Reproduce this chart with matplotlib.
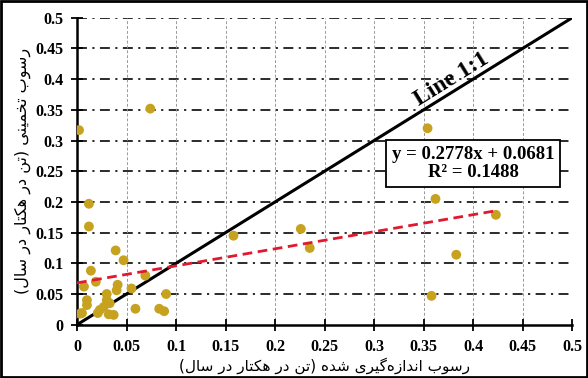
import numpy as np
import matplotlib
matplotlib.use('Agg')
import matplotlib.pyplot as plt
from matplotlib.patches import Rectangle

# داده‌ها (خوانده شده از نمودار)
x_obs = [0.002, 0.074, 0.012, 0.012, 0.039, 0.047, 0.014, 0.069, 0.019, 0.007,
         0.055, 0.041, 0.040, 0.090, 0.030, 0.010, 0.010, 0.030, 0.059, 0.083,
         0.088, 0.005, 0.003, 0.021, 0.032, 0.037, 0.027, 0.023, 0.033, 0.158,
         0.226, 0.235, 0.354, 0.362, 0.423, 0.383, 0.358]
y_est = [0.317, 0.352, 0.197, 0.160, 0.121, 0.105, 0.088, 0.080, 0.070, 0.062,
         0.059, 0.065, 0.056, 0.050, 0.050, 0.040, 0.032, 0.040, 0.026, 0.026,
         0.022, 0.019, 0.018, 0.019, 0.017, 0.016, 0.029, 0.024, 0.035, 0.145,
         0.156, 0.125, 0.320, 0.205, 0.179, 0.114, 0.047]
slope = 0.2778
intercept = 0.0681
r2 = 0.1488
ticks = [0, 0.05, 0.1, 0.15, 0.2, 0.25, 0.3, 0.35, 0.4, 0.45, 0.5]
tick_labels = ['0', '0.05', '0.1', '0.15', '0.2', '0.25', '0.3', '0.35', '0.4', '0.45', '0.5']
xlabel_fa = 'رسوب اندازه\u200cگیری شده (تن در هکتار در سال)'
ylabel_fa = 'رسوب تخمینی (تن در هکتار در سال)'

# شکل‌دهی ساده حروف فارسی (matplotlib خودش این کار را نمی‌کند)
forms = {
    'ا': ('\uFE8D', '\uFE8E', None, None),
    'ب': ('\uFE8F', '\uFE90', '\uFE91', '\uFE92'),
    'ت': ('\uFE95', '\uFE96', '\uFE97', '\uFE98'),
    'خ': ('\uFEA5', '\uFEA6', '\uFEA7', '\uFEA8'),
    'د': ('\uFEA9', '\uFEAA', None, None),
    'ر': ('\uFEAD', '\uFEAE', None, None),
    'ز': ('\uFEAF', '\uFEB0', None, None),
    'س': ('\uFEB1', '\uFEB2', '\uFEB3', '\uFEB4'),
    'ش': ('\uFEB5', '\uFEB6', '\uFEB7', '\uFEB8'),
    'ل': ('\uFEDD', '\uFEDE', '\uFEDF', '\uFEE0'),
    'م': ('\uFEE1', '\uFEE2', '\uFEE3', '\uFEE4'),
    'ن': ('\uFEE5', '\uFEE6', '\uFEE7', '\uFEE8'),
    'ه': ('\uFEE9', '\uFEEA', '\uFEEB', '\uFEEC'),
    'و': ('\uFEED', '\uFEEE', None, None),
    'ی': ('\uFBFC', '\uFBFD', '\uFBFE', '\uFBFF'),
    'ک': ('\uFB8E', '\uFB8F', '\uFB90', '\uFB91'),
    'گ': ('\uFB92', '\uFB93', '\uFB94', '\uFB95'),
}


def shape_fa(s):
    out = []
    for i, ch in enumerate(s):
        if ch not in forms:
            if ch != '\u200c':
                out.append(ch)
            continue
        prev = s[i - 1] if i > 0 else ''
        nxt = s[i + 1] if i + 1 < len(s) else ''
        jp = prev in forms and forms[prev][2] is not None
        jn = nxt in forms and forms[ch][2] is not None
        iso, fin, ini, med = forms[ch]
        if jp and jn:
            out.append(med)
        elif jp:
            out.append(fin)
        elif jn:
            out.append(ini)
        else:
            out.append(iso)
    vis = ''.join(reversed(out))
    return vis.translate(str.maketrans('()', ')('))


serif = {'family': 'Liberation Serif', 'weight': 'bold'}

fig = plt.figure(figsize=(5.88, 3.78), dpi=100)
ax = fig.add_axes([0.131, 0.141, 0.842, 0.812])

# خطوط شبکه
for t in ticks[1:]:
    ax.axhline(t, color='#1a1a1a', lw=1.3, ls=(0, (5.5, 3, 1.2, 3)), zorder=1)
for t in ticks[1:]:
    ax.axvline(t, color='#999999', lw=0.7, ls=(0, (3, 2)), zorder=1)

ax.scatter(x_obs, y_est, s=50, color='#C6A21F', edgecolors='none', zorder=3)

# خط 1:1
xx = np.array([0, 0.5])
ax.plot(xx, xx, color='black', lw=2.2, zorder=2)

# خط رگرسیون
xr = np.array([0, max(x_obs)])
ax.plot(xr, slope * xr + intercept, color='#E0192E', lw=2, ls=(0, (3.5, 2)), zorder=4)

ax.text(0.378, 0.400, 'Line 1:1', fontdict=serif, fontsize=17,
        rotation=31.8, rotation_mode='anchor', ha='center', va='center')
ax.text(0.400, 0.263, 'y = %.4fx + %.4f\nR² = %.4f' % (slope, intercept, r2),
        fontdict=serif, fontsize=13.5, ha='center', va='center', linespacing=1.1,
        bbox=dict(boxstyle='square,pad=0.3', fc='white', ec='black', lw=1.3), zorder=5)

ax.set_xlim(0, 0.5)
ax.set_ylim(0, 0.5)
ax.set_xticks(ticks)
ax.set_yticks(ticks)
ax.set_xticklabels(tick_labels, fontdict=serif, fontsize=11.5)
ax.set_yticklabels(tick_labels, fontdict=serif, fontsize=11.5)
ax.tick_params(direction='inout', length=8, width=1.3, pad=6)
for side in ['top', 'right']:
    ax.spines[side].set_visible(False)
for side in ['left', 'bottom']:
    ax.spines[side].set_linewidth(1.8)

ax.set_xlabel(shape_fa(xlabel_fa), family='DejaVu Sans', fontsize=11, labelpad=2)
ax.set_ylabel(shape_fa(ylabel_fa), family='DejaVu Sans', fontsize=11.5, labelpad=3)

fig.patches.append(Rectangle((0.002, 0.003), 0.996, 0.994, transform=fig.transFigure,
                             fill=False, ec='black', lw=2))

fig.savefig('out.png', dpi=100)
